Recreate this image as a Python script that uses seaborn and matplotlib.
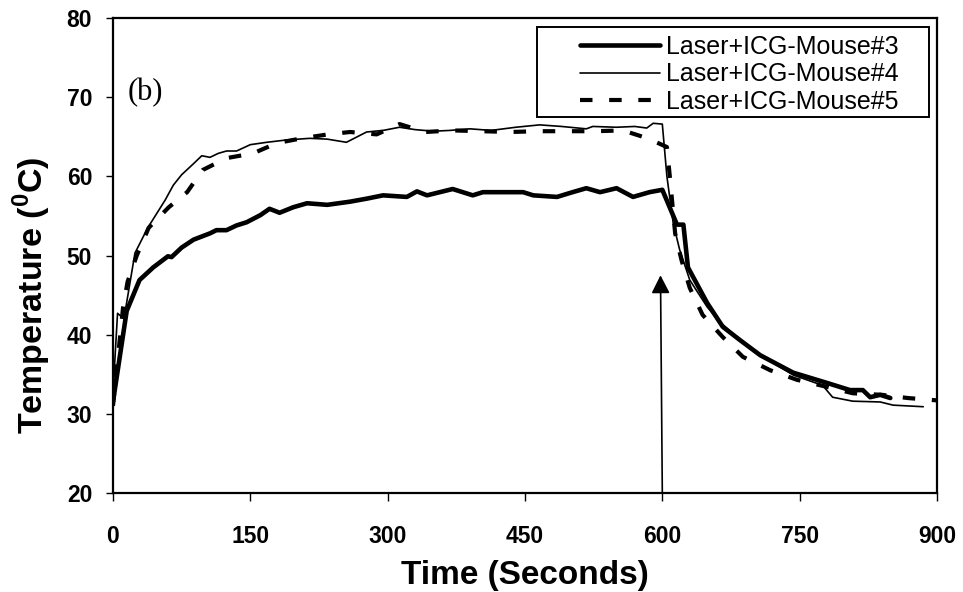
import numpy as np
import pandas as pd
import seaborn as sns
import matplotlib.pyplot as plt
from matplotlib.patches import Rectangle

# Mouse#3 (thick solid)
t_m3 = [0, 15, 29, 44, 60, 64, 75, 88, 106, 113, 124, 135, 146, 161, 171, 182, 197, 212,
        234, 259, 278, 295, 321, 332, 343, 357, 371, 393, 404, 423, 448, 459, 485, 502,
        517, 532, 550, 568, 586, 600, 616, 623, 628, 649, 666, 685, 707, 743, 780, 805,
        819, 827, 838, 849]
temp_m3 = [31.5, 43.0, 46.9, 48.5, 49.9, 49.8, 51.0, 52.0, 52.8, 53.2, 53.2, 53.8, 54.2,
           55.1, 55.9, 55.4, 56.1, 56.6, 56.4, 56.8, 57.2, 57.6, 57.4, 58.1, 57.6, 58.0,
           58.4, 57.6, 58.0, 58.0, 58.0, 57.6, 57.4, 58.0, 58.5, 58.0, 58.5, 57.4, 58.0,
           58.3, 53.9, 53.9, 48.5, 44.0, 41.0, 39.3, 37.4, 35.2, 33.9, 33.0, 33.0, 32.1,
           32.4, 32.0]

# Mouse#4 (thin solid)
t_m4 = [0, 5, 12, 24, 38, 57, 66, 75, 88, 97, 106, 115, 124, 135, 150, 168, 190, 215,
        234, 255, 277, 295, 313, 330, 350, 368, 390, 413, 440, 466, 490, 517, 524, 550,
        570, 583, 590, 600, 605, 612, 619, 630, 649, 663, 685, 707, 743, 775, 786, 808,
        838, 852, 885]
temp_m4 = [32.6, 42.7, 42.0, 50.3, 53.5, 57.0, 58.9, 60.2, 61.6, 62.6, 62.4, 62.9, 63.2,
           63.2, 64.0, 64.3, 64.6, 64.8, 64.7, 64.3, 65.6, 65.8, 66.2, 65.9, 65.7, 65.8,
           66.0, 65.8, 66.2, 66.5, 66.3, 66.0, 66.3, 66.2, 66.3, 66.1, 66.7, 66.6, 60.0,
           54.0, 50.7, 46.9, 43.5, 41.6, 39.3, 37.4, 34.9, 33.6, 32.1, 31.6, 31.5, 31.1,
           30.9]

# Mouse#5 (dashed)
t_m5 = [0, 11, 16, 26, 39, 61, 81, 98, 124, 153, 179, 206, 235, 259, 288, 313, 341, 371,
        403, 434, 464, 496, 527, 557, 584, 605, 608, 614, 621, 630, 644, 666, 688, 718,
        747, 780, 808, 840, 868, 900]
temp_m5 = [31.0, 43.4, 46.7, 50.0, 53.5, 56.1, 58.0, 60.8, 62.3, 62.9, 64.2, 64.8, 65.3,
           65.6, 65.3, 66.6, 65.6, 65.8, 65.7, 65.6, 65.7, 65.7, 65.7, 65.8, 64.8, 63.7,
           60.2, 52.8, 49.4, 45.9, 42.5, 39.7, 37.2, 35.5, 34.3, 33.4, 32.6, 32.4, 32.0,
           31.7]

labels = ['Laser+ICG-Mouse#3', 'Laser+ICG-Mouse#4', 'Laser+ICG-Mouse#5']
x_ticks = [0, 150, 300, 450, 600, 750, 900]
y_ticks = [20, 30, 40, 50, 60, 70, 80]
laser_off = 600  # arrow marks laser switched off

sns.set_style('white')
plt.rcParams['font.family'] = ['Liberation Sans', 'DejaVu Sans']
plt.rcParams['mathtext.fontset'] = 'custom'
plt.rcParams['mathtext.rm'] = 'Liberation Sans'
plt.rcParams['mathtext.bf'] = 'Liberation Sans:bold'
plt.rcParams['text.color'] = 'black'
plt.rcParams['axes.labelcolor'] = 'black'
plt.rcParams['xtick.color'] = 'black'
plt.rcParams['ytick.color'] = 'black'

fig = plt.figure(figsize=(9.63, 5.92), dpi=100)
ax = fig.add_axes([0.1173, 0.1672, 0.8557, 0.8024])

sns.lineplot(x=t_m3, y=temp_m3, ax=ax, color='black', lw=3.3, label=labels[0],
             estimator=None, sort=False)
sns.lineplot(x=t_m4, y=temp_m4, ax=ax, color='black', lw=1.2, label=labels[1],
             estimator=None, sort=False)
sns.lineplot(x=t_m5, y=temp_m5, ax=ax, color='black', lw=3.0, label=labels[2],
             estimator=None, sort=False, dashes=False, linestyle=(0, (3, 4)))

ax.set_xlim(0, 900)
ax.set_ylim(20, 80)
ax.set_xticks(x_ticks)
ax.set_yticks(y_ticks)
for s in ax.spines.values():
    s.set_color('black')
    s.set_linewidth(1.6)
ax.tick_params(axis='x', direction='out', length=6, width=1, pad=17, bottom=True,
               labelsize=16.5, colors='black')
ax.tick_params(axis='y', direction='out', length=5, width=1, pad=10, left=True,
               labelsize=16.5, colors='black')
for lab in ax.get_xticklabels() + ax.get_yticklabels():
    lab.set_fontweight('bold')

ax.set_xlabel('Time (Seconds)', fontsize=24, fontweight='bold', color='black')
ax.set_ylabel(r'Temperature ($^{\mathbf{0}}$C)', fontsize=24.5, fontweight='bold',
              color='black')
ax.xaxis.set_label_coords(0.5, -0.142)
ax.yaxis.set_label_coords(-0.073, 0.417)

# arrow at laser off
ax.annotate('', xy=(laser_off - 2, 47.5), xytext=(laser_off, 20),
            arrowprops=dict(arrowstyle='-|>,head_length=0.55,head_width=0.28',
                            mutation_scale=20, color='black', lw=1.2,
                            shrinkA=0, shrinkB=0),
            annotation_clip=False)

ax.text(0.018, 0.844, '(b)', transform=ax.transAxes, fontsize=22,
        family='Liberation Serif', va='center', ha='left', color='black')

# legend (frame drawn separately, Excel style)
leg = ax.legend(loc='upper left', bbox_to_anchor=(0.567, 0.965), frameon=False,
                fontsize=18, handlelength=3.2, handletextpad=0.25, labelspacing=0.15,
                borderpad=0, borderaxespad=0)
for txt in leg.get_texts():
    txt.set_color('black')
ax.add_patch(Rectangle((0.5146, 0.7916), 0.4754, 0.1894, transform=ax.transAxes,
                       fill=False, edgecolor='black', lw=1.4, zorder=5))

fig.savefig('out.png', dpi=100)
